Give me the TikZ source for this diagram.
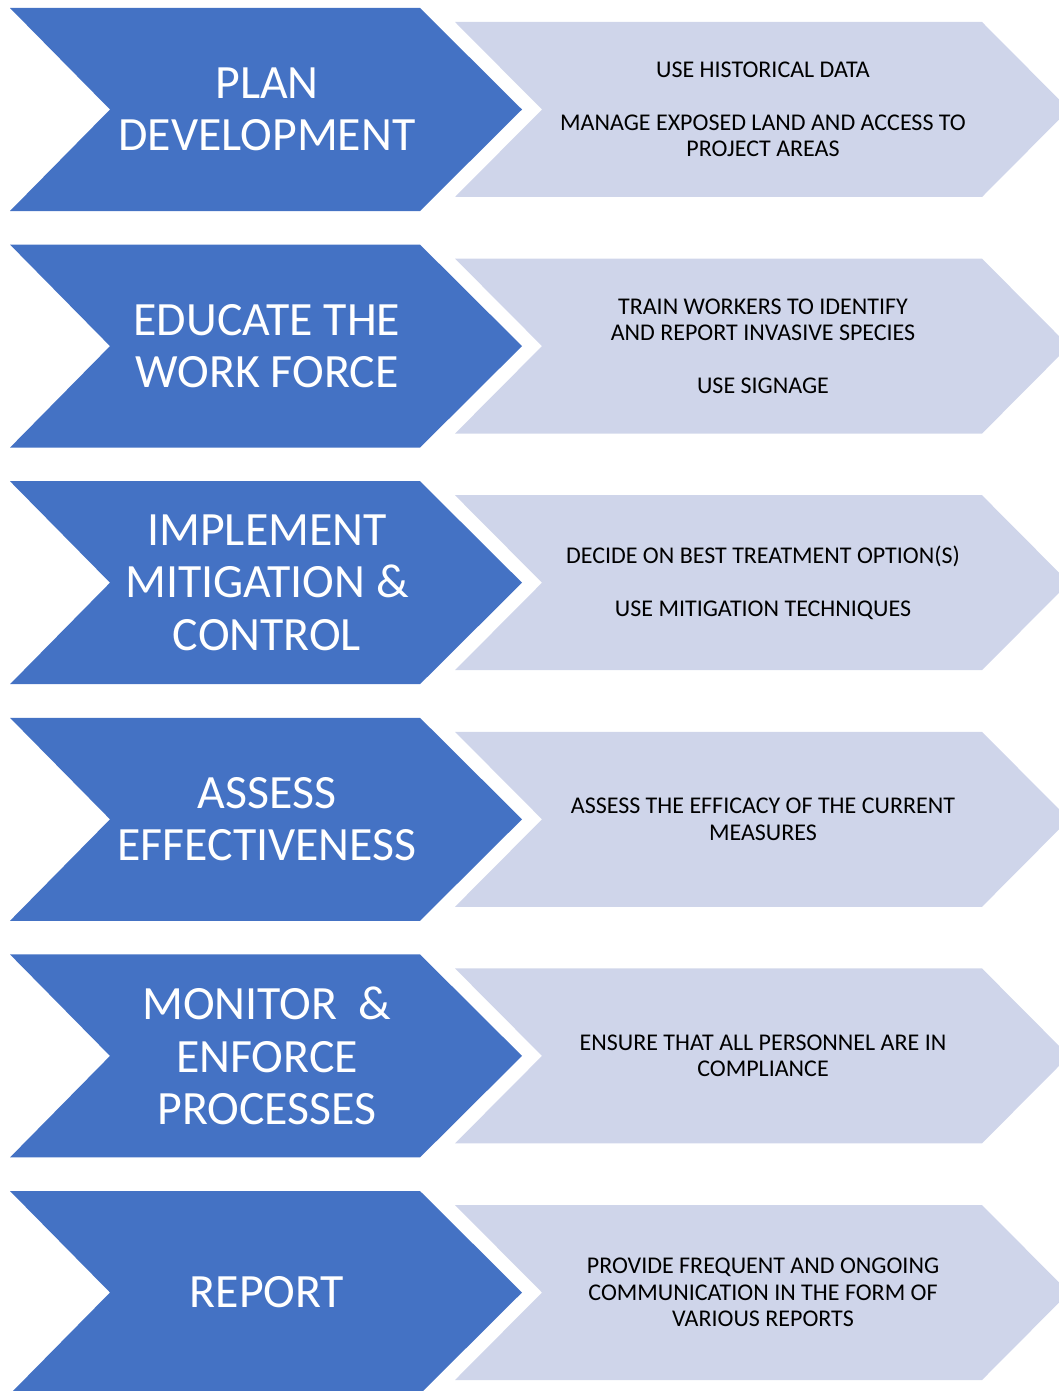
\documentclass[tikz,border=0pt]{standalone}
\usepackage{fontspec}
\setmainfont{Carlito}
\usepackage{xcolor}
\definecolor{stepblue}{HTML}{4472C4}
\definecolor{steplight}{HTML}{CFD5EA}

\begin{document}
\begin{tikzpicture}[
    x=1pt, y=-1pt,
    darktext/.style={align=center, text=white, font=\fontsize{47.8}{52.5}\selectfont, inner sep=0pt},
    lighttext/.style={align=center, text=black, font=\fontsize{24}{26.5}\selectfont, inner sep=0pt}
  ]
    \useasboundingbox (0,0) rectangle (1058,1391);

    % chevron rows: dark step on the left, light detail on the right
    \foreach \i/\name in {0/plan,1/educate,2/implement,3/assess,4/monitor,5/report}{
      \pgfmathsetmacro\t{8+236.6*\i}
      \pgfmathsetmacro\s{\t+14}
      \fill[steplight] (455,\s) -- (982,\s) -- (1069,\s+87.5) -- (982,\s+175)
        -- (455,\s+175) -- (542,\s+87.5) -- cycle;
      \fill[stepblue] (10,\t) -- (420,\t) -- (522,\t+101.5) -- (420,\t+203)
        -- (10,\t+203) -- (110,\t+101.5) -- cycle;
      \coordinate (\name-d) at (267,\t+101.5);
      \coordinate (\name-l) at (763,\s+87.5);
    }

    \node[darktext] (plan) at (plan-d) {PLAN\\DEVELOPMENT};
    \node[darktext] (educate) at (educate-d) {EDUCATE THE\\WORK FORCE};
    \node[darktext] (implement) at (implement-d) {IMPLEMENT\\MITIGATION \&\\CONTROL};
    \node[darktext] (assess) at (assess-d) {ASSESS\\EFFECTIVENESS};
    \node[darktext] (monitor) at (monitor-d) {MONITOR\ \ \&\\ENFORCE\\PROCESSES};
    \node[darktext] (report) at (report-d) {REPORT};

    \node[lighttext] (plannote) at (plan-l)
      {USE HISTORICAL DATA\\[26.5pt]MANAGE EXPOSED LAND AND ACCESS TO\\PROJECT AREAS};
    \node[lighttext] (educatenote) at (educate-l)
      {TRAIN WORKERS TO IDENTIFY\\AND REPORT INVASIVE SPECIES\\[26.5pt]USE SIGNAGE};
    \node[lighttext] (implementnote) at (implement-l)
      {DECIDE ON BEST TREATMENT OPTION(S)\\[26.5pt]USE MITIGATION TECHNIQUES};
    \node[lighttext] (assessnote) at (assess-l)
      {ASSESS THE EFFICACY OF THE CURRENT\\MEASURES};
    \node[lighttext] (monitornote) at (monitor-l)
      {ENSURE THAT ALL PERSONNEL ARE IN\\COMPLIANCE};
    \node[lighttext] (reportnote) at (report-l)
      {PROVIDE FREQUENT AND ONGOING\\COMMUNICATION IN THE FORM OF\\VARIOUS REPORTS};
  \end{tikzpicture}
\end{document}
